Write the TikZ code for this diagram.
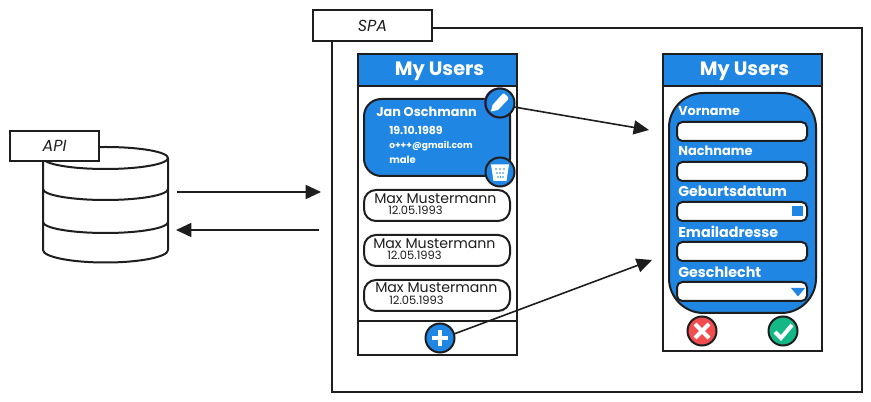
\documentclass[tikz,border=0pt]{standalone}
\usepackage{fontspec}
\setmainfont{Poppins}
\usetikzlibrary{arrows.meta,calc}
\definecolor{ink}{HTML}{1E1E1E}
\definecolor{blu}{HTML}{2086E4}
\definecolor{redc}{HTML}{F14D51}
\definecolor{grn}{HTML}{14B886}
\definecolor{purp}{HTML}{6A2FB0}
\tikzset{
  x=0.75pt,y=-0.75pt,
  sz/.style 2 args={minimum width=#1*0.75pt,minimum height=#2*0.75pt,inner sep=0pt,outer sep=0pt},
  ln/.style={draw=ink,line width=1.5pt},
  frame/.style 2 args={sz={#1}{#2},ln,rectangle},
  tab/.style 2 args={frame={#1}{#2},fill=white,line width=1pt,font=\fontsize{12}{13}\selectfont\itshape,text=ink},
  head/.style 2 args={frame={#1}{#2},fill=blu},
  htext/.style={text=white,font=\fontsize{14.5}{16}\selectfont\bfseries,inner sep=0pt},
  card/.style 2 args={sz={#1}{#2},ln,rectangle,rounded corners=9pt,fill=white},
  bigcard/.style 2 args={sz={#1}{#2},ln,rectangle,rounded corners=13pt,fill=blu},
  panel/.style 2 args={sz={#1}{#2},ln,rectangle,rounded corners=26pt,fill=blu},
  field/.style 2 args={sz={#1}{#2},ln,rectangle,rounded corners=4pt,fill=white},
  round/.style={circle,sz={29}{29},ln},
  arrow/.style={draw=ink,line width=1.2pt,-{Triangle[length=11.5pt,width=10.5pt]}},
  lbl/.style={anchor=west,inner sep=0pt,text=white,font=\fontsize{#1}{11}\selectfont\bfseries},
  tname/.style={anchor=base west,inner sep=0pt,text=ink,font=\fontsize{10.6}{11}\selectfont},
  tdate/.style={anchor=base west,inner sep=0pt,text=ink,font=\fontsize{8.6}{9}\selectfont},
  tw/.style={anchor=west,inner sep=0pt,text=white,font=\fontsize{#1}{9}\selectfont\bfseries},
  icon/.style={draw=white,line width=2.3pt},
}
\begin{document}
\begin{tikzpicture}
\useasboundingbox[fill=white] (0,0) rectangle (871,402);

% SPA frame
\node[frame={530}{364},anchor=north west] (spa) at (332,28) {};
\node[tab={119}{31},anchor=north west] (spatab) at (313,10) {SPA};

% Database
\draw[ln,fill=white] (43,158) -- (43,250) arc[start angle=180,end angle=360,x radius=62.5,y radius=-12.5] -- (168,158)
  arc[start angle=0,end angle=180,x radius=62.5,y radius=-11] -- cycle;
\draw[ln] (43,158) arc[start angle=180,end angle=360,x radius=62.5,y radius=-11];
\draw[ln] (43,189) arc[start angle=180,end angle=360,x radius=62.5,y radius=-11];
\draw[ln] (43,222) arc[start angle=180,end angle=360,x radius=62.5,y radius=-11];
\node[tab={89}{30},anchor=north west] (apitab) at (10,131) {API};

% Left phone
\node[frame={159}{301},anchor=north west,fill=white] (ph1) at (358,54) {};
\node[head={159}{32},anchor=north west] (h1) at (358,54) {};
\node[htext] (h1t) at (439.5,71) {My Users};
\coordinate (footl) at (358,321);
\coordinate (footr) at (517,321);
\draw[ln] (footl) -- (footr);

\node[bigcard={146}{77},anchor=north west] (jan) at (364,99) {};
\node[anchor=west,inner sep=0pt,text=white,font=\fontsize{9.6}{11}\selectfont\bfseries] (jn) at (376,112) {Jan Oschmann};
\node[tw=8.3] (jd) at (389,130) {19.10.1989};
\node[tw=6.8] (jm) at (389,146) {o+++@gmail.com};
\node[tw=7.5] (js) at (389,160) {male};

\node[round,fill=blu,draw=purp] (penb) at (499.4,103) {};
\node[round,fill=blu] (pen) at (500,103) {};
\fill[white] (491,111.5) -- (492.5,105) -- (502,94.5) -- (504,93.5) -- (508,97) -- (508,99.5) -- (498,110) -- cycle;
\node[round,fill=blu] (trash) at (500,172) {};
\fill[white] (491,164.5) -- (509,164.5) -- (506.5,181) -- (493.5,181) -- cycle;
\foreach \xx/\yy in {496/169,500/169,504/169,497/173,500/173,503/173,498/177,500.5/177,503/177}
  \fill[blu] (\xx,\yy) circle (0.8);

\node[card={146}{31},anchor=north west] (m1) at (364,190) {};
\node[tname] (m1n) at (374,204) {Max Mustermann};
\node[tdate] (m1d) at (388,215) {12.05.1993};
\node[card={146}{31},anchor=north west] (m2) at (364,235) {};
\node[tname] (m2n) at (373,249) {Max Mustermann};
\node[tdate] (m2d) at (387,260) {12.05.1993};
\node[card={146}{31},anchor=north west] (m3) at (364,280) {};
\node[tname] (m3n) at (375,293) {Max Mustermann};
\node[tdate] (m3d) at (389,305) {12.05.1993};

\node[round,fill=blu] (plus) at (440,338) {};
\draw[icon,line width=3pt] (432,338) -- (448,338) (440,330) -- (440,346);

% Right phone
\node[frame={159}{297},anchor=north west,fill=white] (ph2) at (663,54) {};
\node[head={159}{32},anchor=north west] (h2) at (663,54) {};
\node[htext] (h2t) at (744.5,71) {My Users};
\node[panel={147}{220},anchor=north west] (form) at (669,93) {};

\node[lbl=9.6] (l1) at (678,111) {Vorname};
\node[field={130}{19},anchor=north west] (f1) at (677,122) {};
\node[lbl=9.7] (l2) at (678,151) {Nachname};
\node[field={130}{19},anchor=north west] (f2) at (677,162) {};
\node[lbl=10.7] (l3) at (678,191) {Geburtsdatum};
\node[field={130}{19},anchor=north west] (f3) at (677,202) {};
\node[lbl=10.7] (l4) at (678,232) {Emailadresse};
\node[field={130}{19},anchor=north west] (f4) at (677,242) {};
\node[lbl=10.7] (l5) at (678,272) {Geschlecht};
\node[field={130}{19},anchor=north west] (f5) at (677,282) {};
\fill[blu] (792,206) rectangle (803,216);
\fill[blu] (791,288) -- (805,288) -- (798,296.5) -- cycle;

\node[round,fill=redc] (no) at (702,331) {};
\draw[icon,line width=3pt] (695,324) -- (709,338) (709,324) -- (695,338);
\node[round,fill=grn] (ok) at (783,331) {};
\draw[icon,line width=3pt] (775,332) -- (781,338) -- (792,325);

% Connectors
\coordinate (a1s) at (177,192);
\coordinate (a1e) at (321,192);
\coordinate (a2s) at (319,230);
\coordinate (a2e) at (176,230);
\coordinate (a3e) at (649,130);
\coordinate (a4e) at (652,260);
\draw[arrow] (a1s) -- (a1e);
\draw[arrow] (a2s) -- (a2e);
\draw[arrow] (pen) ++(14,4) -- (a3e);
\draw[arrow] (plus) ++(14,-4) -- (a4e);
\end{tikzpicture}
\end{document}
